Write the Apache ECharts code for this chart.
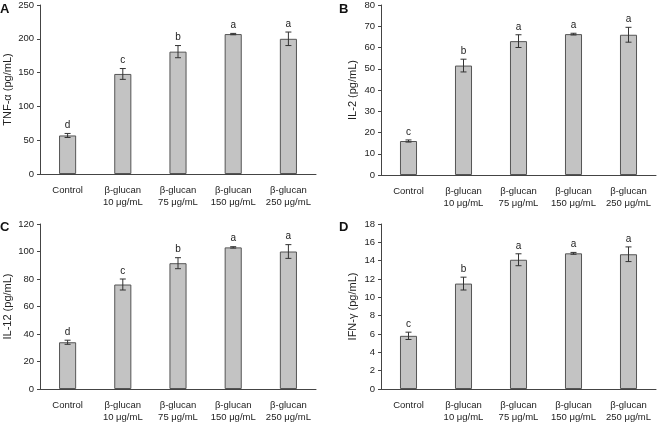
<!DOCTYPE html>
<html><head><meta charset="utf-8">
<script src="https://cdn.jsdelivr.net/npm/echarts@6/dist/echarts.min.js"></script>
<style>html,body{margin:0;padding:0;background:#fff}#c{width:663px;height:423px}</style>
</head><body><div id="c"></div>
<script>
const categories = ['Control', 'β-glucan\n10 μg/mL', 'β-glucan\n75 μg/mL', 'β-glucan\n150 μg/mL', 'β-glucan\n250 μg/mL'];

const panelLetters = ['A', 'B', 'C', 'D'];
const axisTitles = ['TNF-α (pg/mL)', 'IL-2 (pg/mL)', 'IL-12 (pg/mL)', 'IFN-γ (pg/mL)'];
const axisMax = [250, 80, 120, 18];
const axisInterval = [50, 10, 20, 2];

const tnfMean = [57, 148, 181, 207, 200];
const tnfErr = [3, 8, 9, 1, 10];
const tnfSig = ['d', 'c', 'b', 'a', 'a'];

const il2Mean = [16, 51.5, 63, 66.3, 66];
const il2Err = [0.5, 3, 3, 0.4, 3.5];
const il2Sig = ['c', 'b', 'a', 'a', 'a'];

const il12Mean = [34, 76, 91.5, 103, 100];
const il12Err = [1.5, 4, 4, 0.5, 5];
const il12Sig = ['d', 'c', 'b', 'a', 'a'];

const ifnMean = [5.8, 11.5, 14.1, 14.8, 14.7];
const ifnErr = [0.4, 0.7, 0.65, 0.1, 0.8];
const ifnSig = ['c', 'b', 'a', 'a', 'a'];

const means = [tnfMean, il2Mean, il12Mean, ifnMean];
const errs = [tnfErr, il2Err, il12Err, ifnErr];
const sigs = [tnfSig, il2Sig, il12Sig, ifnSig];

const FONT = 'Liberation Sans, Arial, sans-serif';
const grids = [
  {left: 40, right: 347, top: 5, bottom: 249},
  {left: 381, right: 7, top: 5, bottom: 248},
  {left: 40, right: 347, top: 224, bottom: 29},
  {left: 381, right: 7, top: 224, bottom: 29}
];
const nameGaps = [27, 23, 27, 23];
const letterPos = [[0, 3], [339, 3], [0, 221], [339, 221]];

const chart = echarts.init(document.getElementById('c'), null, {renderer: 'canvas'});
const option = {
  animation: false,
  backgroundColor: '#fff',
  textStyle: {fontFamily: FONT},
  title: panelLetters.map((t, i) => ({
    text: t, left: letterPos[i][0], top: letterPos[i][1], padding: 0,
    textStyle: {fontFamily: FONT, fontSize: 13, fontWeight: 'bold', color: '#111'}
  })),
  grid: grids.map(g => Object.assign({containLabel: false}, g)),
  xAxis: grids.map((g, i) => ({
    type: 'category', gridIndex: i, data: categories,
    axisLine: {lineStyle: {color: '#444', width: 1}},
    axisTick: {inside: true, length: 3, lineStyle: {color: '#444'}},
    axisLabel: {color: '#222', fontSize: 9.5, lineHeight: 12, margin: 10, interval: 0, fontFamily: FONT}
  })),
  yAxis: grids.map((g, i) => ({
    type: 'value', gridIndex: i, min: 0, max: axisMax[i], interval: axisInterval[i],
    name: axisTitles[i], nameLocation: 'middle', nameGap: nameGaps[i],
    nameTextStyle: {color: '#222', fontSize: 11, fontFamily: FONT},
    axisLine: {show: true, lineStyle: {color: '#444', width: 1}},
    axisTick: {show: true, length: 3, lineStyle: {color: '#444'}},
    splitLine: {show: false},
    axisLabel: {color: '#222', fontSize: 9.5, margin: 6, fontFamily: FONT}
  })),
  series: []
};

means.forEach((m, i) => {
  option.series.push({
    type: 'bar', xAxisIndex: i, yAxisIndex: i, data: m, barWidth: '31%',
    itemStyle: {color: '#c3c3c3', borderColor: '#555', borderWidth: 1}
  });
  option.series.push({
    type: 'custom', xAxisIndex: i, yAxisIndex: i,
    data: m.map((v, k) => [k, v - errs[i][k], v + errs[i][k], sigs[i][k]]),
    renderItem: function (params, api) {
      const x = api.value(0);
      const lo = api.coord([x, api.value(1)]);
      const hi = api.coord([x, api.value(2)]);
      const cap = 3;
      const st = {stroke: '#333', lineWidth: 1};
      return {
        type: 'group',
        children: [
          {type: 'line', shape: {x1: lo[0], y1: lo[1], x2: hi[0], y2: hi[1]}, style: st},
          {type: 'line', shape: {x1: lo[0] - cap, y1: lo[1], x2: lo[0] + cap, y2: lo[1]}, style: st},
          {type: 'line', shape: {x1: hi[0] - cap, y1: hi[1], x2: hi[0] + cap, y2: hi[1]}, style: st},
          {type: 'text', style: {text: api.value(3), x: hi[0], y: hi[1] - 3, textAlign: 'center', textVerticalAlign: 'bottom', fill: '#222', font: '10px ' + FONT}}
        ]
      };
    },
    z: 5
  });
});

chart.setOption(option);
</script>
</body></html>
